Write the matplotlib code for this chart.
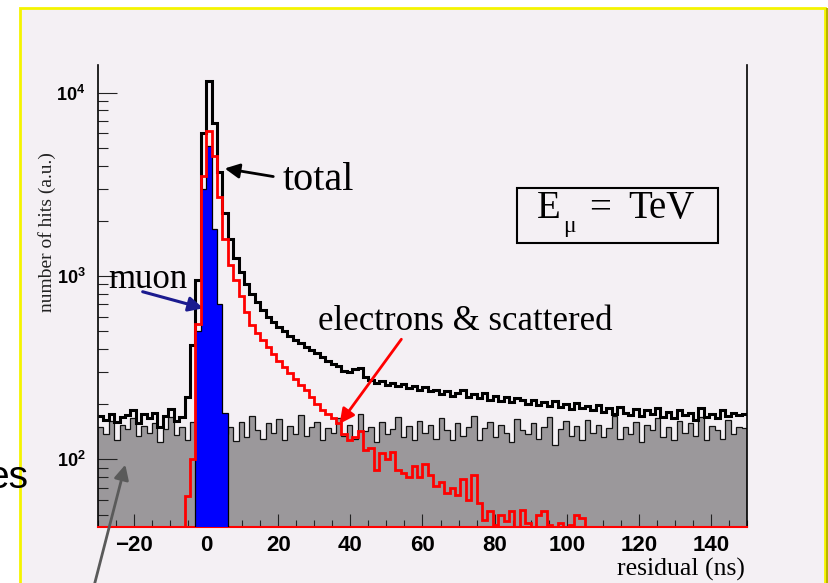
import numpy as np
import matplotlib
matplotlib.use("Agg")
import matplotlib.pyplot as plt
from matplotlib.patches import Rectangle
from matplotlib.ticker import MultipleLocator, LogLocator, NullFormatter

W, H = 829, 583

# residual histograms, 1.5 ns bins from -30 to 150 ns
edges = np.arange(-30, 150.01, 1.5)

background = [
    150, 138, 162, 128, 155, 146, 168, 134, 152, 140,
    158, 125, 147, 170, 136, 150, 128, 160, 142, 155,
    148, 135, 165, 138, 150, 126, 160, 132, 172, 145,
    130, 158, 140, 166, 128, 152, 138, 175, 134, 150,
    160, 127, 148, 140, 168, 135, 155, 130, 178, 142,
    150, 125, 160, 138, 146, 170, 132, 152, 128, 162,
    140, 155, 130, 168, 145, 127, 158, 135, 150, 172,
    128, 148, 160, 133, 155, 140, 125, 166, 145, 137,
    158, 130, 150, 170, 120, 147, 162, 135, 152, 128,
    165, 140, 155, 132, 148, 172, 130, 150, 138, 160,
    125, 155, 145, 168, 133, 150, 127, 162, 140, 158,
    135, 170, 128, 152, 145, 130, 165, 138, 150, 148,
]

electrons = [
    30, 25, 32, 28, 30, 26, 33, 29, 31, 27,
    30, 28, 32, 26, 30, 34, 63, 100, 550, 3500,
    6200, 4500, 2700, 1600, 1150, 950, 780, 640, 540, 490,
    450, 410, 375, 345, 320, 295, 275, 255, 238, 218,
    200, 185, 176, 168, 158, 137, 128, 132, 142, 112,
    115, 88, 108, 100, 110, 88, 84, 80, 92, 80,
    95, 82, 72, 75, 66, 70, 64, 78, 60, 82,
    58, 47, 52, 44, 50, 46, 52, 42, 53, 45,
    40, 50, 52, 44, 41, 45, 40, 44, 50, 48,
    41, 43, 35, 30, 38, 28, 32, 36, 27, 33,
    30, 35, 29, 31, 34, 26, 30, 33, 28, 32,
    30, 27, 34, 29, 31, 35, 28, 30, 32, 29,
]

total = [
    172, 165, 178, 160, 170, 175, 185, 158, 176, 168,
    180, 150, 172, 188, 162, 170, 220, 420, 950, 6000,
    11600, 6800, 3700, 2200, 1600, 1250, 1050, 900, 800, 720,
    650, 600, 560, 530, 500, 470, 450, 430, 410, 395,
    380, 360, 345, 330, 325, 305, 300, 312, 315, 280,
    270, 262, 268, 255, 262, 250, 258, 245, 250, 240,
    248, 235, 240, 228, 236, 222, 230, 238, 218, 226,
    215, 230, 212, 222, 208, 218, 205, 215, 210, 200,
    212, 198, 206, 195, 208, 192, 200, 188, 203, 190,
    196, 185, 198, 182, 190, 178, 192, 180, 175, 188,
    172, 185, 176, 190, 170, 182, 168, 186, 174, 180,
    165, 190, 170, 178, 168, 185, 172, 180, 175, 178,
]

muon_edges = [-3, -1.5, 0, 1.5, 3, 4.5, 6]
muon = [500, 3000, 5100, 1800, 700, 180]


def px(x, y):
    # image pixel -> figure fraction
    return x / W, 1 - y / H


plt.rcParams['font.family'] = ['Liberation Serif', 'DejaVu Serif']
plt.rcParams['mathtext.fontset'] = 'custom'
plt.rcParams['mathtext.rm'] = 'Liberation Sans'
plt.rcParams['mathtext.bf'] = 'Liberation Sans:bold'

fig = plt.figure(figsize=(W / 100, H / 100), dpi=100, facecolor='white')

# slide background with yellow frame
fig.patches.append(Rectangle(px(20, 590), (825 - 20) / W, (590 - 8) / H,
                             transform=fig.transFigure, facecolor='#f4f0f4',
                             edgecolor='#f4f400', lw=2, zorder=-10))
fig.patches.append(Rectangle(px(826, 590), 3 / W, (590 - 8) / H,
                             transform=fig.transFigure, facecolor='#b8b400',
                             edgecolor='none', zorder=-9))

ax = fig.add_axes([98 / W, 1 - 527 / H, (747 - 98) / W, (527 - 65) / H])
ax.patch.set_alpha(0)
ax.set_yscale('log')

ax.stairs(background, edges, baseline=1, fill=True, facecolor='#9b989b',
          edgecolor='none', zorder=1)
ax.stairs(background, edges, baseline=None, color='#111111', lw=0.9, zorder=2)
ax.stairs(total, edges, baseline=None, color='black', lw=2.2, zorder=3)
ax.stairs(muon, muon_edges, baseline=1, fill=True, facecolor='#0000ff',
          edgecolor='none', zorder=4)
ax.stairs(muon, muon_edges, baseline=1, color='black', lw=0.9, zorder=4)
ax.stairs(electrons, edges, baseline=None, color='#ff0000', lw=2.0, zorder=5)

ax.set_xlim(-30, 150)
ax.set_ylim(42.8, 14160)

ax.spines['top'].set_visible(False)
ax.spines['left'].set_linewidth(1.2)
ax.spines['right'].set_linewidth(1.2)
ax.spines['bottom'].set_color('#ff0000')
ax.spines['bottom'].set_linewidth(1.5)

ax.xaxis.set_major_locator(MultipleLocator(20))
ax.xaxis.set_minor_locator(MultipleLocator(5))
ax.set_yticks([1e2, 1e3, 1e4])
ax.set_yticklabels([r'$\mathbf{10^{2}}$', r'$\mathbf{10^{3}}$', r'$\mathbf{10^{4}}$'])
ax.yaxis.set_minor_locator(LogLocator(base=10, subs=range(2, 10)))
ax.yaxis.set_minor_formatter(NullFormatter())

ax.tick_params(axis='x', which='major', direction='in', length=9.5, width=0.8,
               pad=6, labelsize=16, color='#222222')
ax.tick_params(axis='x', which='minor', direction='in', length=5, width=0.8,
               color='#222222')
ax.tick_params(axis='y', which='major', direction='in', length=13.5, width=0.8,
               pad=9, labelsize=13, color='#222222')
ax.tick_params(axis='y', which='minor', direction='in', length=7, width=0.8,
               color='#222222')
for lab in ax.get_xticklabels():
    lab.set_fontfamily('Liberation Sans')
    lab.set_fontweight('bold')

# axis titles
fig.text(*px(745, 576), 'residual (ns)', ha='right', va='baseline', fontsize=18.5)
fig.text(*px(47, 232), 'number of hits (a.u.)', ha='center', va='center',
         rotation=90, fontsize=14, color='#222222')

# annotations
fig.text(*px(283, 190), 'total', ha='left', va='baseline', fontsize=29)
ax.annotate('', xy=px(222, 168), xycoords='figure fraction',
            xytext=px(276, 177), textcoords='figure fraction',
            arrowprops=dict(arrowstyle='-|>', color='black', lw=2,
                            mutation_scale=22), annotation_clip=False)

fig.text(*px(108, 288), 'muon', ha='left', va='baseline', fontsize=25)
ax.annotate('', xy=px(206, 309), xycoords='figure fraction',
            xytext=px(140, 291), textcoords='figure fraction',
            arrowprops=dict(arrowstyle='-|>', color='#1b1b8f', lw=2.2,
                            mutation_scale=22), annotation_clip=False)

fig.text(*px(318, 330), 'electrons & scattered', ha='left', va='baseline',
         fontsize=25)
ax.annotate('', xy=px(338, 426), xycoords='figure fraction',
            xytext=px(403, 337), textcoords='figure fraction',
            arrowprops=dict(arrowstyle='-|>', color='#ff0000', lw=2,
                            mutation_scale=22), annotation_clip=False)

# energy box
fig.patches.append(Rectangle(px(517, 243), (718 - 517) / W, (243 - 188) / H,
                             transform=fig.transFigure, facecolor='none',
                             edgecolor='black', lw=1.5, zorder=5))
fig.text(*px(537, 218), 'E', ha='left', va='baseline', fontsize=28)
fig.text(*px(563, 232), 'μ', ha='left', va='baseline', fontsize=17)
fig.text(*px(589, 218), '=', ha='left', va='baseline', fontsize=28)
fig.text(*px(628, 218), 'TeV', ha='left', va='baseline', fontsize=28)

# slide leftovers: cut text and arrow towards the background
fig.text(*px(28, 488), 'es', ha='right', va='baseline', fontsize=28,
         family='Liberation Sans')
ax.annotate('', xy=px(126, 462), xycoords='figure fraction',
            xytext=px(93, 590), textcoords='figure fraction',
            arrowprops=dict(arrowstyle='-|>', color='#5a5a5a', lw=2,
                            mutation_scale=22), annotation_clip=False)

fig.savefig('out.png', dpi=100, facecolor=fig.get_facecolor())
